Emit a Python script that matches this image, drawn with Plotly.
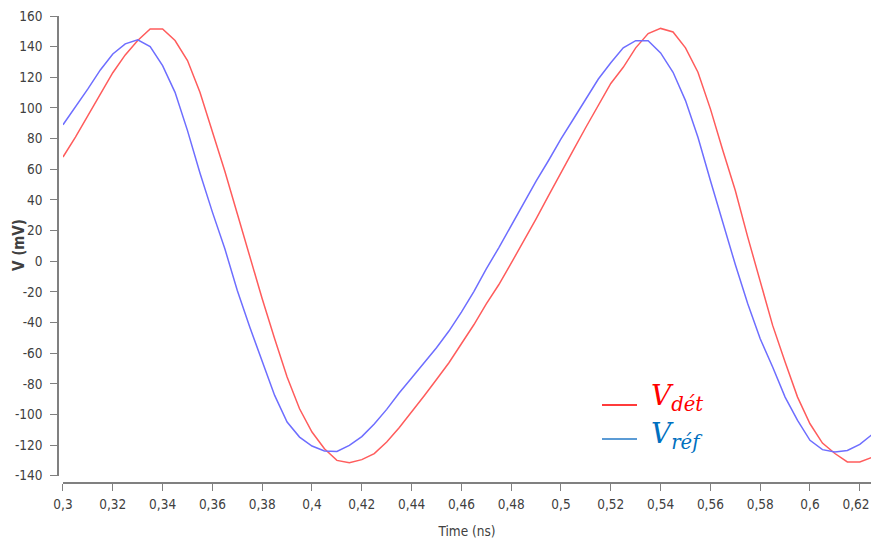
import plotly.graph_objects as go

# time axis (ns): samples every 0.005 ns from 0.300 to 0.625
time_ns = [round(0.300 + 0.005 * k, 3) for k in range(66)]

v_det = [68, 81, 95, 109, 123, 134.6, 144, 151.5, 151.5, 144,
         130.9, 110.2, 84.8, 58.7, 30.9, 2.6, -24.5, -50.6, -75.6, -96.3,
         -111.5, -122.4, -130, -131.5, -129.5, -125.6, -118, -108.7, -98.5, -88,
         -77.2, -66.3, -53.9, -41.5, -27.8, -15.4, -1.3, 12.8, 27.6, 42.8,
         58.1, 72.6, 87.4, 102, 116, 126.5, 139.2, 148.5, 151.9, 149.6,
         139.2, 123.3, 99.4, 72.2, 46.1, 15.7, -12.6, -41.9, -65.8, -88.7,
         -106.1, -118.7, -125.5, -131, -131, -128]

v_ref = [89, 100.5, 112.4, 124.8, 135.2, 141.8, 144.4, 140, 127.6, 110.2,
         85.2, 57.6, 32, 8.1, -19.1, -43, -64.8, -87.6, -105, -114.8,
         -120.6, -123.9, -124.2, -120.2, -114.5, -106.3, -96.7, -86, -76.3, -66.3,
         -56.5, -45.6, -33.2, -19.8, -5, 8.7, 23.3, 37.4, 52.2, 65.7,
         79.8, 92.8, 105.9, 118.9, 129.5, 139.2, 143.9, 143.9, 135.9, 123.3,
         104.8, 80.9, 52.6, 25, -2.2, -27.8, -50.6, -69.1, -88.7, -103.9,
         -116.9, -123, -124.5, -123.5, -119.5, -113]

x_tick_vals = [0.30, 0.32, 0.34, 0.36, 0.38, 0.40, 0.42, 0.44, 0.46, 0.48,
               0.50, 0.52, 0.54, 0.56, 0.58, 0.60, 0.62]
x_tick_text = ["0,3", "0,32", "0,34", "0,36", "0,38", "0,4", "0,42", "0,44", "0,46",
               "0,48", "0,5", "0,52", "0,54", "0,56", "0,58", "0,6",
               "0,62\u00a0\u00a0"]
y_tick_vals = [160, 140, 120, 100, 80, 60, 40, 20, 0, -20, -40, -60, -80,
               -100, -120, -140]
y_tick_text = ["160", "140", "120", "100", "80", "60", "40", "20", "0", "-20",
               "-40", "-60", "-80", "-100", "-120", "-140"]

series_names = ['<i>V</i><sub><i>dét</i></sub>', '<i>V</i><sub><i>réf</i></sub>']
series_line_colors = ["#FF5C5C", "#6E6EFF"]
legend_line_colors = ["#FF3B3B", "#5B9BD5"]
legend_text_colors = ["#FF0000", "#0070C0"]

fig = go.Figure()
fig.add_trace(go.Scatter(x=time_ns, y=v_det, mode="lines", name="V dét",
                         line=dict(color=series_line_colors[0], width=1.5),
                         showlegend=False))
fig.add_trace(go.Scatter(x=time_ns, y=v_ref, mode="lines", name="V réf",
                         line=dict(color=series_line_colors[1], width=1.5),
                         showlegend=False))

tick_font = dict(family="DejaVu Sans Condensed, DejaVu Sans", size=13.5, color="#404040")

# paper-coordinate helpers (window pixels -> paper fractions of the plot area)
def px_x(p):
    return (p - 58) / 813.0

def px_y(p):
    return (483 - p) / 467.0

shapes = []
annotations = [dict(text="<b>V (mV)</b>", xref="paper", yref="paper",
                    x=px_x(19), y=px_y(245), xanchor="center", yanchor="middle",
                    textangle=-90, showarrow=False,
                    font=dict(family="DejaVu Sans Condensed, DejaVu Sans", size=15,
                              color="#404040"))]
legend_line_y = [405, 439]
legend_text_y = [397, 435]
for i in range(2):
    shapes.append(dict(type="line", xref="paper", yref="paper",
                       x0=px_x(602), x1=px_x(637),
                       y0=px_y(legend_line_y[i]), y1=px_y(legend_line_y[i]),
                       line=dict(color=legend_line_colors[i], width=1.8)))
    annotations.append(dict(text=series_names[i], xref="paper", yref="paper",
                            x=px_x(649), y=px_y(legend_text_y[i]),
                            xanchor="left", yanchor="middle", showarrow=False,
                            font=dict(family="DejaVu Serif", size=28,
                                      color=legend_text_colors[i])))

fig.update_layout(
    width=871, height=540,
    margin=dict(l=58, r=0, t=16, b=57),
    paper_bgcolor="white", plot_bgcolor="white",
    showlegend=False,
    xaxis=dict(domain=[0.00615, 1], range=[0.3, 0.6245], anchor="free", position=0,
               automargin=False, ticklabeloverflow="allow",
               showgrid=False, zeroline=False, showline=True, linecolor="#808080",
               linewidth=1.5, ticks="outside", ticklen=7, tickcolor="#808080",
               ticklabelstandoff=2,
               tickvals=x_tick_vals, ticktext=x_tick_text, tickfont=tick_font,
               title=dict(text="Time (ns)", standoff=15,
                          font=dict(family="DejaVu Sans Condensed, DejaVu Sans",
                                    size=13.5, color="#404040"))),
    yaxis=dict(domain=[0.0156, 1], range=[-140, 160], anchor="free", position=0,
               automargin=False, ticklabeloverflow="allow",
               showgrid=False, zeroline=False, showline=True, linecolor="#808080",
               linewidth=1.5, ticks="outside", ticklen=7, tickcolor="#808080",
               ticklabelstandoff=5,
               tickvals=y_tick_vals, ticktext=y_tick_text, tickfont=tick_font),
    shapes=shapes,
    annotations=annotations,
)

# remove the browser's default 8px body margin so the figure fills the window exactly
fig.write_html("out.html",
               config=dict(displayModeBar=False),
               post_script="document.body.style.margin='0';"
                           "document.body.style.overflow='hidden';")
